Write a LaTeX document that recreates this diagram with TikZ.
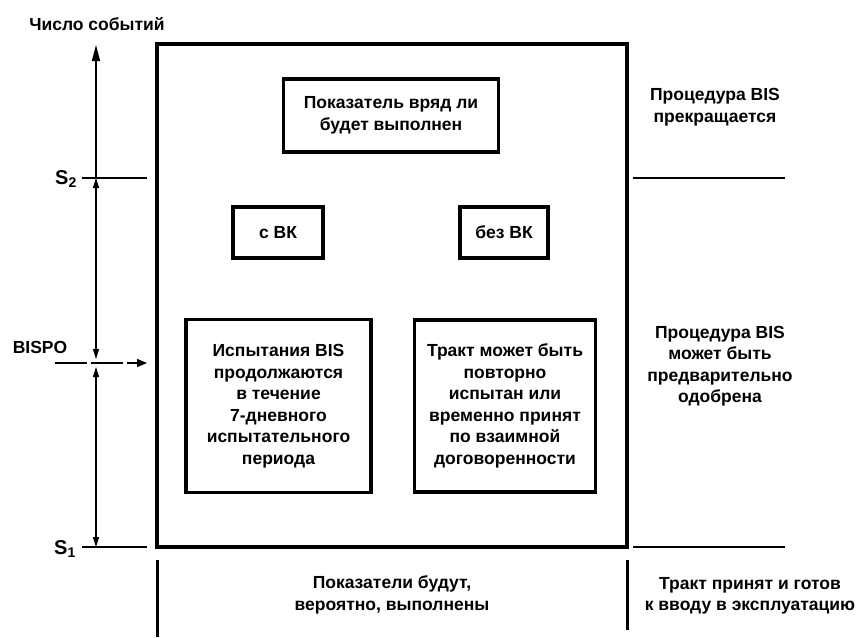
\documentclass[tikz,border=0pt]{standalone}
\usepackage{fontspec}
\setmainfont{Liberation Sans}
\usetikzlibrary{arrows.meta}
\begin{document}
\begin{tikzpicture}[x=1pt,y=-1pt,
  txt/.style={font=\bfseries\fontsize{17.5}{21.5}\selectfont, align=center, inner sep=0pt},
  slabel/.style={font=\bfseries\fontsize{20}{22}\selectfont, inner sep=0pt},
  box/.style={draw, line width=3.5pt, txt},
  axis/.style={line width=1.3pt},
  mytip/.tip={Triangle[length=10pt,width=6pt]},
  level/.style={line width=2pt},
  rlevel/.style={line width=2.5pt},
  wall/.style={line width=3pt}]
\useasboundingbox (0,0) rectangle (859,637);

% main frame
\node[draw, line width=4pt, minimum width=470pt, minimum height=503pt, inner sep=0pt] (frame) at (392,295.5) {};

% inner boxes
\node[box, minimum width=215pt, minimum height=73pt] (unlikely) at (391,115.5) {Показатель вряд ли\\будет выполнен};
\node[box, minimum width=90pt, minimum height=51pt] (withBK) at (278,232.5) {с ВК};
\node[box, minimum width=88pt, minimum height=51pt] (noBK) at (504,232.5) {без ВК};
\node[box, minimum width=185pt, minimum height=173pt] (tests) at (278.5,406) {Испытания BIS\\продолжаются\\в течение\\7-дневного\\испытательного\\периода};
\node[box, minimum width=181pt, minimum height=172pt] (retest) at (505,406) {Тракт может быть\\повторно\\испытан или\\временно принят\\по взаимной\\договоренности};

% free texts
\node[txt] (likely) at (392,595) {Показатели будут,\\вероятно, выполнены};
\node[txt] (stop) at (715,107) {Процедура BIS\\прекращается};
\node[txt] (approve) at (720,366) {Процедура BIS\\может быть\\предварительно\\одобрена};
\node[txt] (accepted) at (750,596) {Тракт принят и готов\\к вводу в эксплуатацию};
\node[txt] (ylabel) at (97,24) {Число событий};
\node[slabel] (lS2) at (66,179) {S\textsubscript{2}};
\node[slabel] (lS1) at (65,549) {S\textsubscript{1}};
\node[txt] (lBISPO) at (40,347) {BISPO};

% axis coordinates
\coordinate (top) at (96,45);
\coordinate (s2) at (96,178);
\coordinate (bispo) at (96,363);
\coordinate (s1) at (96,547);

\draw[axis, -{Triangle[length=16pt,width=8pt]}] (s2) -- (top);
\draw[axis, {mytip}-{mytip}, shorten <=4pt] (bispo) -- (s2);
\draw[axis, {mytip}-{mytip}, shorten >=4pt] (s1) -- (bispo);

% level lines
\coordinate (s2L) at (82,178); \coordinate (s2R) at (147,178);
\coordinate (s1L) at (82,547); \coordinate (s1R) at (147,547);
\draw[level] (s2L) -- (s2R);
\draw[level] (s1L) -- (s1R);
\coordinate (r2L) at (633,178); \coordinate (r2R) at (785,178);
\coordinate (r1L) at (633,547); \coordinate (r1R) at (785,547);
\draw[rlevel] (r2L) -- (r2R);
\draw[rlevel] (r1L) -- (r1R);

% BISPO dashed marker
\coordinate (bL) at (55,363); \coordinate (bR) at (147,363);
\draw[line width=1.3pt, dash pattern=on 32pt off 4pt, -{Triangle[length=10pt,width=8pt]}] (bL) -- (bR);

% lower walls
\coordinate (w1a) at (157,560); \coordinate (w1b) at (157,637);
\coordinate (w2a) at (627,560); \coordinate (w2b) at (627,630);
\draw[wall] (w1a) -- (w1b);
\draw[wall] (w2a) -- (w2b);
\end{tikzpicture}
\end{document}
